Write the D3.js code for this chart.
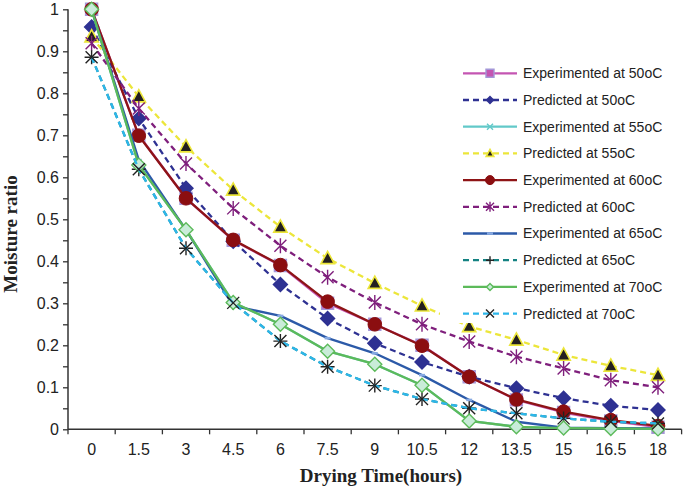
<!DOCTYPE html>
<html><head><meta charset="utf-8">
<script src="https://cdn.jsdelivr.net/npm/d3@7"></script>
<style>body{margin:0;background:#fff;overflow:hidden}</style>
</head><body><svg id="c" width="685" height="488"></svg>
<script>
// ---- data ----
const timeLabels = ["0","1.5","3","4.5","6","7.5","9","10.5","12","13.5","15","16.5","18"];
const yTickValues = [0,0.1,0.2,0.3,0.4,0.5,0.6,0.7,0.8,0.9,1];
const seriesNames = ["Experimented at 50oC","Predicted at 50oC","Experimented at 55oC","Predicted at 55oC",
  "Experimented at 60oC","Predicted at 60oC","Experimented at 65oC","Predicted at 65oC",
  "Experimented at 70oC","Predicted at 70oC"];
const exp50  = [1.0, 0.70, 0.55, 0.45, 0.39, 0.30, 0.25, 0.20, 0.125, 0.07, 0.04, 0.02, 0.005];
const pred50 = [0.958, 0.740, 0.574, 0.448, 0.345, 0.264, 0.205, 0.160, 0.125, 0.098, 0.074, 0.056, 0.046];
const exp55  = [1.0, 0.629, 0.475, 0.302, 0.250, 0.186, 0.155, 0.105, 0.020, 0.006, 0.003, 0.002, 0.001];
const pred55 = [0.935, 0.792, 0.673, 0.570, 0.482, 0.407, 0.348, 0.294, 0.245, 0.213, 0.177, 0.151, 0.129];
const exp60  = [1.0, 0.699, 0.550, 0.451, 0.391, 0.304, 0.250, 0.199, 0.125, 0.071, 0.042, 0.022, 0.008];
const pred60 = [0.919, 0.764, 0.633, 0.526, 0.437, 0.362, 0.302, 0.250, 0.209, 0.173, 0.145, 0.117, 0.100];
const exp65  = [1.0, 0.641, 0.475, 0.294, 0.270, 0.217, 0.181, 0.129, 0.070, 0.018, 0.004, 0.003, 0.002];
const pred65 = [0.886, 0.619, 0.431, 0.301, 0.210, 0.149, 0.104, 0.072, 0.050, 0.038, 0.026, 0.018, 0.014];
const exp70  = [1.0, 0.629, 0.475, 0.302, 0.250, 0.186, 0.155, 0.105, 0.020, 0.006, 0.003, 0.002, 0.001];
const pred70 = [0.886, 0.619, 0.431, 0.301, 0.210, 0.149, 0.104, 0.072, 0.050, 0.038, 0.026, 0.018, 0.014];

// ---- styles ----
const styles = [
  {color:"#c455b2", dashed:false, marker:"square",   fill:"#c455b2", mstroke:"#a497d8", size:6,  lsize:4},
  {color:"#2e3192", dashed:true,  marker:"diamond",  fill:"#2e3192", mstroke:"#2e3192", size:7,  lsize:3.5},
  {color:"#62c9c9", dashed:false, marker:"x",        fill:"none",    mstroke:"#62c9c9", size:3,  lsize:3},
  {color:"#ece63a", dashed:true,  marker:"triangle", fill:"#231f20", mstroke:"#ece63a", size:7,  lsize:4},
  {color:"#8e1416", dashed:false, marker:"circle",   fill:"#8b0e10", mstroke:"#8b0e10", size:6.8,lsize:4.5},
  {color:"#7f1f7c", dashed:true,  marker:"star",     fill:"none",    mstroke:"#7f1f7c", size:6,  lsize:4},
  {color:"#2c5aa8", dashed:false, marker:"dash",     fill:"none",    mstroke:"#86a9e2", size:3,  lsize:3},
  {color:"#148282", dashed:true,  marker:"plus",     fill:"none",    mstroke:"#222",    size:7,  lsize:4},
  {color:"#5cba5a", dashed:false, marker:"diamond",  fill:"#c9ecd9", mstroke:"#5cba5a", size:7,  lsize:3.5},
  {color:"#2db6ea", dashed:true,  marker:"x",        fill:"none",    mstroke:"#222",    size:6,  lsize:4}
];
const values = [exp50,pred50,exp55,pred55,exp60,pred60,exp65,pred65,exp70,pred70];
const series = seriesNames.map((n,i)=>({name:n, values:values[i], ...styles[i]}));

const svg = d3.select("#c");
const pLeft = 68, pRight = 681.6, pTop = 9.3, pBottom = 429.3;
const x = d3.scaleBand().domain(timeLabels).range([pLeft,pRight]);
const y = d3.scaleLinear().domain([0,1]).range([pBottom,pTop]);
const cx = c => x(c) + x.bandwidth()/2;

function markerPath(type, s){
  switch(type){
    case "square": return `M${-s},${-s}h${2*s}v${2*s}h${-2*s}Z`;
    case "diamond": return `M0,${-s}L${s},0L0,${s}L${-s},0Z`;
    case "triangle": return `M0,${-s}L${s*0.95},${s*0.75}L${-s*0.95},${s*0.75}Z`;
    case "x": return `M${-s},${-s}L${s},${s}M${-s},${s}L${s},${-s}`;
    case "plus": return `M${-s},0H${s}M0,${-s}V${s}`;
    case "star": return `M${-s},${-s}L${s},${s}M${-s},${s}L${s},${-s}M0,${-s*1.25}V${s*1.25}`;
    case "dash": return `M${-s},0H${s}`;
  }
}
function drawMarker(g, d, s, px, py){
  if(d.marker==="circle"){
    g.append("circle").attr("cx",px).attr("cy",py).attr("r",s).attr("fill",d.fill).attr("stroke",d.mstroke);
  } else {
    const lw = d.marker==="dash"?2.5:(d.marker==="triangle"?1.6:1.4);
    g.append("path").attr("d",markerPath(d.marker,s)).attr("transform",`translate(${px},${py})`)
      .attr("fill",d.fill).attr("stroke",d.mstroke).attr("stroke-width",lw);
  }
}

// axes
const yMinor = d3.range(0,1.0001,0.05).map(v=>+v.toFixed(2));
const yAxis = d3.axisLeft(y).tickValues(yMinor).tickSize(5)
  .tickFormat(v => yTickValues.some(t=>Math.abs(t-v)<1e-6) ? d3.format("")(+v.toFixed(1)) : "");
const gy = svg.append("g").attr("transform",`translate(${pLeft},0)`).call(yAxis);
gy.select(".domain").attr("d",`M0,${pTop}V${pBottom}`).attr("stroke","#333").attr("stroke-width",1.5);
gy.selectAll(".tick line").attr("stroke","#333").attr("stroke-width",1.3);
gy.selectAll(".tick text").attr("x",-9).attr("font-family","Liberation Sans, Arial, sans-serif")
  .attr("font-size",16).attr("fill","#222");

const xAxis = d3.axisBottom(x).tickSize(0).tickPadding(14);
const gx = svg.append("g").attr("transform",`translate(0,${pBottom})`).call(xAxis);
gx.select(".domain").attr("d",`M${pLeft},0H${pRight}`).attr("stroke","#333").attr("stroke-width",1.5);
gx.selectAll(".tick text").attr("font-family","Liberation Sans, Arial, sans-serif")
  .attr("font-size",16).attr("fill","#222");
// category boundary ticks
const bounds = timeLabels.map(c=>x(c)).concat([pRight]);
svg.append("g").selectAll("line").data(bounds).join("line")
  .attr("x1",d=>d).attr("x2",d=>d).attr("y1",pBottom).attr("y2",pBottom+5)
  .attr("stroke","#333").attr("stroke-width",1.3);

// titles
svg.append("text").attr("x",381).attr("y",482).attr("text-anchor","middle")
  .attr("font-family","Liberation Serif, Times New Roman, serif").attr("font-weight","bold")
  .attr("font-size",19).attr("fill","#222").text("Drying Time(hours)");
svg.append("text").attr("transform","translate(17,234) rotate(-90)").attr("text-anchor","middle")
  .attr("font-family","Liberation Serif, Times New Roman, serif").attr("font-weight","bold")
  .attr("font-size",19).attr("fill","#222").text("Moisture ratio");

// series
const line = d3.line().x((v,i)=>cx(timeLabels[i])).y(v=>y(v));
series.forEach(d=>{
  const g = svg.append("g");
  g.append("path").attr("d",line(d.values)).attr("fill","none").attr("stroke",d.color)
    .attr("stroke-width",2.3).attr("stroke-dasharray",d.dashed?"6,4":null).attr("stroke-linejoin","round");
  d.values.forEach((v,i)=>drawMarker(g,d,d.size,cx(timeLabels[i]),y(v)));
});

// legend
const lg = svg.append("g");
lg.append("rect").attr("x",440).attr("y",55).attr("width",245).attr("height",268).attr("fill","#fff");
series.forEach((d,i)=>{
  const ly = 73.3 + i*26.7;
  lg.append("line").attr("x1",463).attr("x2",517).attr("y1",ly).attr("y2",ly)
    .attr("stroke",d.color).attr("stroke-width",2.3).attr("stroke-dasharray",d.dashed?"6,4":null);
  drawMarker(lg,d,d.lsize,490,ly);
  lg.append("text").attr("x",523).attr("y",ly).attr("dy","0.35em")
    .attr("font-family","Liberation Sans, Arial, sans-serif").attr("font-size",14).attr("fill","#222")
    .text(d.name);
});
</script></body></html>
